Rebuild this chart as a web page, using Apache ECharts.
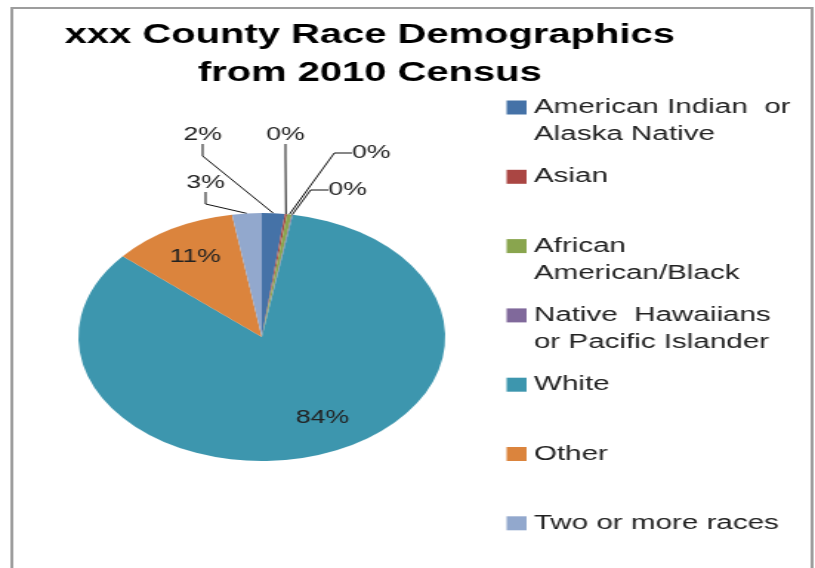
<!DOCTYPE html>
<html>
<head>
<meta charset="utf-8">
<script src="https://cdn.jsdelivr.net/npm/echarts@6/dist/echarts.min.js"></script>
<style>
  html, body { margin: 0; padding: 0; background: #fff; overflow: hidden; }
  /* the reference is a horizontally stretched screenshot, so draw narrow and stretch */
  #chart { width: 551px; height: 568px; transform: scaleX(1.4791); transform-origin: 0 0; }
</style>
</head>
<body>
<div id="chart"></div>
<script>
var categories = ['American Indian or Alaska Native', 'Asian', 'African American/Black',
  'Native Hawaiians or Pacific Islander', 'White', 'Other', 'Two or more races'];
var legendLabels = ['American Indian  or\nAlaska Native', 'Asian', 'African\nAmerican/Black',
  'Native  Hawaiians\nor Pacific Islander', 'White', 'Other', 'Two or more races'];
var percents = [2.0, 0.2, 0.4, 0.1, 83.6, 11.1, 2.6];
var titleText = 'xxx County Race Demographics\nfrom 2010 Census';

var palette = ['#4572A7', '#AA4643', '#89A54E', '#80699B', '#3D96AE', '#DB843D', '#92A8CD'];
var insideSlices = [4, 5];

// where Excel put each percentage label
var labelSpots = [
  {x: 150, y: 135, align: 'right'},
  {x: 193, y: 135, align: 'center'},
  {x: 238, y: 153, align: 'left'},
  {x: 222, y: 190, align: 'left'},
  {x: 218, y: 418, align: 'center'},
  {x: 132, y: 257, align: 'center'},
  {x: 152, y: 183, align: 'right'}
];

var myChart = echarts.init(document.getElementById('chart'));

var pieData = categories.map(function (name, i) {
  var inside = insideSlices.indexOf(i) >= 0;
  return {
    name: name,
    value: percents[i],
    label: {position: inside ? 'inside' : 'outside'},
    labelLine: {show: !inside}
  };
});

myChart.setOption({
  backgroundColor: '#fff',
  animation: false,
  color: palette,
  graphic: [
    {
      type: 'rect',
      shape: {x: 8, y: 8, width: 541, height: 620},
      style: {fill: 'none', stroke: '#9d9d9d', lineWidth: 2},
      silent: true
    },
    {
      type: 'text',
      x: 250,
      y: 17,
      style: {
        text: titleText,
        align: 'center',
        fill: '#000',
        font: 'bold 27px "Liberation Sans", Arial, sans-serif',
        lineHeight: 38
      }
    }
  ],
  legend: {
    orient: 'vertical',
    left: 342.5,
    top: 67,
    height: 530,
    padding: 0,
    itemGap: -11.7,
    itemWidth: 13.5,
    itemHeight: 14,
    icon: 'rect',
    selectedMode: false,
    data: categories,
    // every entry is three lines tall, first text line level with the swatch
    formatter: function (name) {
      var txt = legendLabels[categories.indexOf(name)];
      return ' \n' + txt + (txt.indexOf('\n') >= 0 ? '' : '\n ');
    },
    textStyle: {
      fontFamily: '"Liberation Sans", Arial, sans-serif',
      fontSize: 20,
      lineHeight: 27,
      color: '#222',
      backgroundColor: 'rgba(255,255,255,0)'
    }
  },
  series: [{
    type: 'pie',
    center: [177, 337],
    radius: 124,
    startAngle: 90,
    clockwise: true,
    avoidLabelOverlap: false,
    silent: true,
    itemStyle: {borderWidth: 0},
    label: {
      formatter: function (p) {
        return Math.round(p.value) + '%';
      },
      fontFamily: '"Liberation Sans", Arial, sans-serif',
      fontSize: 18,
      color: '#222'
    },
    labelLine: {
      show: true,
      length: 15,
      length2: 12,
      lineStyle: {color: '#111', width: 1}
    },
    labelLayout: function (params) {
      var s = labelSpots[params.dataIndex];
      return {x: s.x, y: s.y, align: s.align, verticalAlign: 'middle'};
    },
    data: pieData
  }]
});
</script>
</body>
</html>
